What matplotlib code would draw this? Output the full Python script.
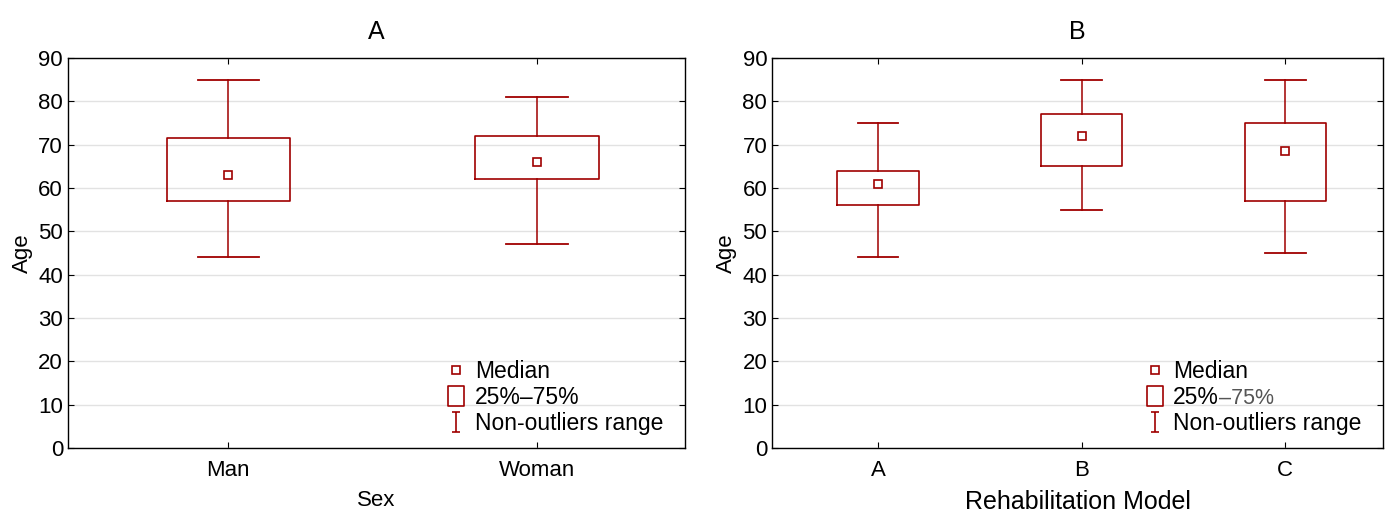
import matplotlib.pyplot as plt
from matplotlib.path import Path
from matplotlib.lines import Line2D

plt.rcParams['font.family'] = ['Liberation Sans', 'DejaVu Sans']

red = '#a00000'

# panel A: sex
sex_labels = ['Man', 'Woman']
sex_whislo = [44, 47]
sex_q1 = [57, 62]
sex_med = [63, 66]
sex_q3 = [71.5, 72]
sex_whishi = [85, 81]

# panel B: rehabilitation model
model_labels = ['A', 'B', 'C']
model_whislo = [44, 55, 45]
model_q1 = [56, 65, 57]
model_med = [61, 72, 68.5]
model_q3 = [64, 77, 75]
model_whishi = [75, 85, 85]

ibeam = Path([(-0.4, 1), (0.4, 1), (0, 1), (0, -1), (-0.4, -1), (0.4, -1)],
             [Path.MOVETO, Path.LINETO, Path.MOVETO, Path.LINETO, Path.MOVETO, Path.LINETO])
tallbox = Path([(-0.4, -0.5), (0.4, -0.5), (0.4, 0.5), (-0.4, 0.5), (-0.4, -0.5)],
               [Path.MOVETO, Path.LINETO, Path.LINETO, Path.LINETO, Path.CLOSEPOLY])


def draw_panel(ax, labels, lo, q1, med, q3, hi, title, xlabel, xlabel_size, mid_label):
    stats = []
    for i in range(len(labels)):
        stats.append(dict(whislo=lo[i], q1=q1[i], med=med[i], q3=q3[i], whishi=hi[i],
                          mean=med[i], fliers=[]))
    pos = list(range(len(labels)))
    ax.bxp(stats, positions=pos, widths=0.4, showmeans=True,
           boxprops=dict(color=red, lw=1.2),
           whiskerprops=dict(color=red, lw=1.3, alpha=0.85),
           capprops=dict(color=red, lw=1.3),
           medianprops=dict(linestyle='none'),
           meanprops=dict(marker='s', markersize=5.5, markerfacecolor='white',
                          markeredgecolor=red, markeredgewidth=1.2))
    ax.set_xlim(-0.52, len(labels) - 0.52)
    ax.set_ylim(0, 90)
    ax.set_yticks(range(0, 91, 10))
    ax.set_xticks(pos)
    ax.set_xticklabels(labels)
    ax.yaxis.grid(True, color='#e2e2e2', lw=1)
    ax.set_axisbelow(True)
    ax.tick_params(direction='in', right=True, top=True, labelsize=16, length=4)
    ax.tick_params(axis='x', pad=9)
    for s in ax.spines.values():
        s.set_color('black')
        s.set_linewidth(1)
    ax.set_title(title, fontsize=18, pad=14)
    ax.set_xlabel(xlabel, fontsize=xlabel_size, labelpad=6)
    ax.set_ylabel('Age', fontsize=16, labelpad=4)

    handles = [
        Line2D([], [], ls='none', marker='s', markersize=5.5, markerfacecolor='white',
               markeredgecolor=red, markeredgewidth=1.2),
        Line2D([], [], ls='none', marker=tallbox, markersize=15, markerfacecolor='white',
               markeredgecolor=red, markeredgewidth=1.2),
        Line2D([], [], ls='none', marker=ibeam, markersize=14, markerfacecolor='none',
               markeredgecolor=red, markeredgewidth=1.2),
    ]
    leg = ax.legend(handles, ['Median', mid_label, 'Non-outliers range'], loc='lower right',
                    bbox_to_anchor=(0.985, 0.0),
                    frameon=False, fontsize=16.5, handlelength=1.0, handletextpad=0.3,
                    labelspacing=0.14, borderaxespad=0.15)
    return leg


fig = plt.figure(figsize=(13.95, 5.16), dpi=100)
ax1 = fig.add_axes([0.0487, 0.1318, 0.4423, 0.7558])
ax2 = fig.add_axes([0.5534, 0.1318, 0.4380, 0.7558])

draw_panel(ax1, sex_labels, sex_whislo, sex_q1, sex_med, sex_q3, sex_whishi,
           'A', 'Sex', 16, '25%–75%')
leg2 = draw_panel(ax2, model_labels, model_whislo, model_q1, model_med, model_q3, model_whishi,
                  'B', 'Rehabilitation Model', 18, '25%')

# the second half of the label is grey in panel B
fig.canvas.draw()
bb = leg2.get_texts()[1].get_window_extent()
fig.text(bb.x1 / fig.bbox.width, bb.y0 / fig.bbox.height, '–75%', fontsize=15.5,
         color='#555555', ha='left', va='bottom')

fig.savefig('out.png', dpi=100)
